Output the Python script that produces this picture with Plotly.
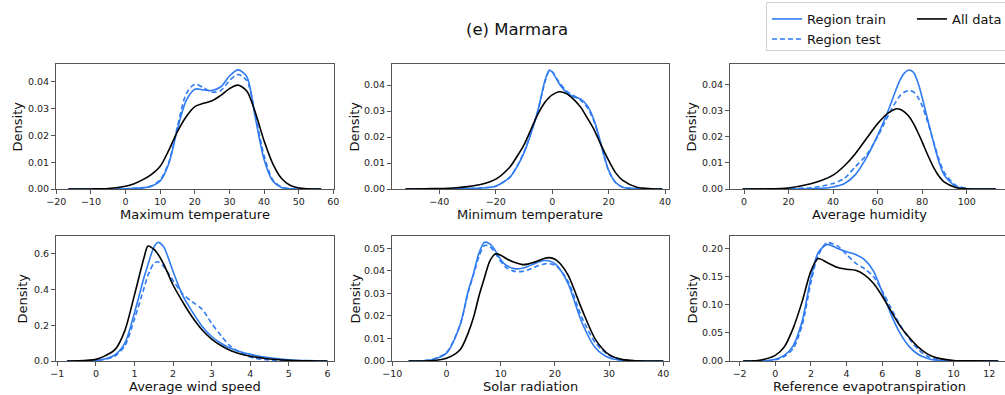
import plotly.graph_objects as go

# ---------------- data ----------------
tmax_x = [-16.5, -10, -5, 0, 2.5, 5, 7.5, 10, 12.5, 15, 17.5, 20, 22.5, 25, 27.5, 30, 32.5, 35, 37.5, 40, 42.5, 45, 47.5, 50, 56.5]
tmax_all = [0, 0.00002, 0.0002, 0.001, 0.002, 0.0035, 0.0055, 0.0085, 0.0145, 0.0215, 0.027, 0.0308, 0.0320, 0.0330, 0.0350, 0.0375, 0.0388, 0.0366, 0.0285, 0.018, 0.0095, 0.0040, 0.0014, 0.0004, 0]
tmax_train = [0, 0, 0, 0.0001, 0.0003, 0.0004, 0.001, 0.003, 0.0095, 0.0225, 0.033, 0.0373, 0.0370, 0.0368, 0.0382, 0.0422, 0.0445, 0.0420, 0.0265, 0.011, 0.003, 0.0006, 0.0001, 0, 0]
tmax_test = [0, 0, 0, 0.0001, 0.0003, 0.0005, 0.0012, 0.0035, 0.010, 0.0235, 0.0355, 0.0392, 0.0378, 0.0362, 0.0368, 0.0405, 0.0428, 0.0405, 0.0275, 0.0125, 0.0035, 0.0008, 0.0001, 0, 0]

tmin_x = [-52, -45, -40, -35, -30, -25, -20, -15, -12.5, -10, -7.5, -5, -2.5, -1, 0, 2.5, 5, 7.5, 10, 12.5, 15, 17.5, 20, 22.5, 25, 30, 35, 39]
tmin_all = [0, 0.0001, 0.0002, 0.0004, 0.0009, 0.0018, 0.0038, 0.0085, 0.0125, 0.0170, 0.0230, 0.0290, 0.0335, 0.0353, 0.0362, 0.0374, 0.0367, 0.0346, 0.0316, 0.0272, 0.0225, 0.0165, 0.0110, 0.0062, 0.0033, 0.0007, 0.0001, 0]
tmin_train = [0, 0, 0, 0.0001, 0.0002, 0.0004, 0.0011, 0.0045, 0.0085, 0.0140, 0.0215, 0.0305, 0.0420, 0.0458, 0.0450, 0.0405, 0.0372, 0.0355, 0.0347, 0.0320, 0.0260, 0.0165, 0.0072, 0.0025, 0.0007, 0.0001, 0, 0]
tmin_test = [0, 0, 0, 0.0001, 0.0002, 0.0004, 0.0011, 0.0046, 0.0087, 0.0142, 0.0217, 0.0303, 0.0415, 0.0455, 0.0452, 0.0410, 0.0378, 0.0360, 0.0342, 0.0312, 0.0255, 0.0160, 0.0070, 0.0024, 0.0007, 0.0001, 0, 0]

hum_x = [-0.6, 10, 20, 30, 35, 40, 45, 50, 55, 60, 65, 68.5, 70, 72, 74, 76, 78, 80, 82.5, 85, 87.5, 90, 95, 100, 105, 113]
hum_all = [0, 0.00005, 0.0004, 0.002, 0.0033, 0.0053, 0.0088, 0.0135, 0.0193, 0.0250, 0.0292, 0.0307, 0.0305, 0.0295, 0.0278, 0.0252, 0.0218, 0.0180, 0.0130, 0.0085, 0.0050, 0.0026, 0.0006, 0.0001, 0, 0]
hum_train = [0, 0, 0, 0.0001, 0.0003, 0.0008, 0.002, 0.0055, 0.0120, 0.0205, 0.0305, 0.0385, 0.0415, 0.0443, 0.0455, 0.0447, 0.0410, 0.0350, 0.0265, 0.0182, 0.0105, 0.0052, 0.0010, 0.0001, 0, 0]
hum_test = [0, 0, 0.0001, 0.0005, 0.0011, 0.0021, 0.0040, 0.0085, 0.0130, 0.0200, 0.0285, 0.0338, 0.0356, 0.0370, 0.0376, 0.0372, 0.0352, 0.0318, 0.0255, 0.0185, 0.0115, 0.0062, 0.0015, 0.0002, 0, 0]

wind_x = [-0.75, -0.5, 0, 0.25, 0.5, 0.75, 1.0, 1.25, 1.35, 1.5, 1.6, 1.75, 2.0, 2.25, 2.5, 2.75, 3.0, 3.25, 3.5, 4.0, 4.5, 5.0, 5.5, 6.0]
wind_all = [0, 0.0005, 0.009, 0.03, 0.065, 0.17, 0.37, 0.58, 0.643, 0.625, 0.6, 0.545, 0.425, 0.33, 0.245, 0.175, 0.122, 0.085, 0.058, 0.027, 0.011, 0.004, 0.001, 0]
wind_train = [0, 0, 0.003, 0.012, 0.035, 0.1, 0.27, 0.47, 0.54, 0.635, 0.663, 0.64, 0.5, 0.365, 0.275, 0.195, 0.137, 0.098, 0.07, 0.037, 0.018, 0.007, 0.002, 0]
wind_test = [0, 0, 0.002, 0.01, 0.028, 0.085, 0.235, 0.41, 0.48, 0.545, 0.555, 0.53, 0.45, 0.375, 0.33, 0.29, 0.21, 0.14, 0.08, 0.022, 0.005, 0.001, 0, 0]

solar_x = [-7, -5, -2.5, 0, 2.5, 4, 5, 6, 7, 8, 9, 10, 11, 12.5, 14, 15, 16, 17, 18, 19, 20, 21, 22.5, 25, 27.5, 30, 32.5, 35, 40]
solar_all = [0, 0, 0.0002, 0.0012, 0.005, 0.0125, 0.0195, 0.029, 0.037, 0.0445, 0.0475, 0.047, 0.0455, 0.0438, 0.0428, 0.0430, 0.0437, 0.0446, 0.0455, 0.0459, 0.0452, 0.0432, 0.0378, 0.0228, 0.0095, 0.0028, 0.0006, 0.0001, 0]
solar_train = [0, 0, 0.0007, 0.0035, 0.016, 0.031, 0.039, 0.048, 0.0527, 0.0520, 0.0490, 0.0450, 0.0425, 0.0410, 0.0412, 0.0420, 0.0430, 0.0440, 0.0446, 0.0444, 0.0432, 0.0405, 0.0340, 0.0170, 0.0058, 0.0014, 0.0002, 0, 0]
solar_test = [0, 0, 0.0008, 0.0038, 0.016, 0.0305, 0.0385, 0.0465, 0.0513, 0.0508, 0.0478, 0.0442, 0.0415, 0.0398, 0.0398, 0.0404, 0.0414, 0.0424, 0.0431, 0.0432, 0.0425, 0.0404, 0.0350, 0.0192, 0.0080, 0.0025, 0.0006, 0.0001, 0]

et0_x = [-1.8, -1, -0.5, 0, 0.5, 1, 1.5, 2, 2.4, 2.9, 3.5, 4, 4.5, 5, 5.5, 6, 6.5, 7, 7.5, 8, 8.5, 9, 10, 11, 12.5]
et0_all = [0, 0.001, 0.004, 0.01, 0.025, 0.058, 0.105, 0.160, 0.182, 0.175, 0.166, 0.163, 0.161, 0.153, 0.138, 0.115, 0.088, 0.062, 0.042, 0.025, 0.013, 0.006, 0.001, 0.0002, 0]
et0_train = [0, 0, 0.0005, 0.003, 0.01, 0.027, 0.07, 0.148, 0.192, 0.207, 0.200, 0.194, 0.189, 0.180, 0.160, 0.122, 0.082, 0.049, 0.026, 0.012, 0.005, 0.0015, 0.0001, 0, 0]
et0_test = [0, 0, 0.0004, 0.002, 0.008, 0.022, 0.063, 0.140, 0.187, 0.210, 0.204, 0.189, 0.174, 0.164, 0.150, 0.124, 0.093, 0.064, 0.040, 0.021, 0.009, 0.003, 0.0003, 0, 0]

panel_labels = ["Maximum temperature", "Minimum temperature", "Average humidity",
                "Average wind speed", "Solar radiation", "Reference evapotranspiration"]
series_names = ["Region train", "Region test", "All data"]
title_text = "(e) Marmara"

x_ticks = [[-20, -10, 0, 10, 20, 30, 40, 50, 60], [-40, -20, 0, 20, 40], [0, 20, 40, 60, 80, 100],
           [-1, 0, 1, 2, 3, 4, 5, 6], [-10, 0, 10, 20, 30, 40], [-2, 0, 2, 4, 6, 8, 10, 12]]
y_ticks = [[0, 0.01, 0.02, 0.03, 0.04], [0, 0.01, 0.02, 0.03, 0.04], [0, 0.01, 0.02, 0.03, 0.04],
           [0, 0.2, 0.4, 0.6], [0, 0.01, 0.02, 0.03, 0.04, 0.05], [0, 0.05, 0.10, 0.15, 0.20]]
y_fmt = [".2f", ".2f", ".2f", ".1f", ".2f", ".2f"]

# ---------------- layout geometry (pixels) ----------------
W, H = 1005, 395
col_px = [(56, 334), (392, 669), (730, 1005)]
row_px = [(64, 189), (236, 361)]
x_ranges = [(-20.1, 60.2), (-56.8, 41.4), (-6.29, 117.2), (-1.034, 6.17), (-10.06, 41.05), (-2.54, 12.88)]
y_ranges = [(0, 0.0467), (0, 0.0481), (0, 0.0478), (0, 0.699), (0, 0.0555), (0, 0.222)]
ytitle_px = [17, 354, 691, 22, 355, 692]
xtitle_cx = [195, 530, 869, 195, 530, 869]

BLUE = "#2f7bf2"
AX = "#555555"
FONT = "DejaVu Sans"

panels = [
    (tmax_x, tmax_train, tmax_test, tmax_all),
    (tmin_x, tmin_train, tmin_test, tmin_all),
    (hum_x, hum_train, hum_test, hum_all),
    (wind_x, wind_train, wind_test, wind_all),
    (solar_x, solar_train, solar_test, solar_all),
    (et0_x, et0_train, et0_test, et0_all),
]

fig = go.Figure()
annotations = []
layout = {}
for i, (xs, tr, te, al) in enumerate(panels):
    k = i + 1
    xa = "x" if k == 1 else f"x{k}"
    ya = "y" if k == 1 else f"y{k}"
    first = (k == 1)
    line_common = dict(shape="spline", smoothing=0.8, width=1.6)
    fig.add_trace(go.Scatter(x=xs, y=tr, mode="lines", name=series_names[0], legendgroup="tr",
                             showlegend=first, legend="legend", xaxis=xa, yaxis=ya,
                             line=dict(color=BLUE, **line_common)))
    fig.add_trace(go.Scatter(x=xs, y=te, mode="lines", name=series_names[1], legendgroup="te",
                             showlegend=first, legend="legend3", xaxis=xa, yaxis=ya,
                             line=dict(color=BLUE, dash="5px,3px", **line_common)))
    fig.add_trace(go.Scatter(x=xs, y=al, mode="lines", name=series_names[2], legendgroup="al",
                             showlegend=first, legend="legend2", xaxis=xa, yaxis=ya,
                             line=dict(color="black", **line_common)))

    r, c = divmod(i, 3)
    x0, x1 = col_px[c]
    y0, y1 = row_px[r]
    dom_x = [x0 / W, min(x1 / W, 1.0)]
    dom_y = [1 - y1 / H, 1 - y0 / H]
    last_col = (c == 2)
    layout["xaxis" if k == 1 else f"xaxis{k}"] = dict(
        domain=dom_x, range=list(x_ranges[i]), anchor=ya, tickvals=x_ticks[i],
        showline=True, linecolor=AX, linewidth=1, mirror=True, ticks="outside", ticklen=4,
        tickcolor=AX, showgrid=False, zeroline=False,
        tickfont=dict(family=FONT, size=9.5, color="#222"))
    layout["yaxis" if k == 1 else f"yaxis{k}"] = dict(
        domain=dom_y, range=list(y_ranges[i]), anchor=xa, tickvals=y_ticks[i], tickformat=y_fmt[i],
        showline=True, linecolor=AX, linewidth=1, mirror=(not last_col), ticks="outside", ticklen=4,
        tickcolor=AX, showgrid=False, zeroline=False,
        tickfont=dict(family=FONT, size=9.5, color="#222"))
    # axis titles
    annotations.append(dict(text=panel_labels[i], xref="paper", yref="paper",
                            x=xtitle_cx[i] / W, y=1 - (y1 + 25) / H,
                            xanchor="center", yanchor="middle", showarrow=False,
                            font=dict(family=FONT, size=13, color="#111")))
    annotations.append(dict(text="Density", xref="paper", yref="paper", textangle=-90,
                            x=ytitle_px[i] / W, y=1 - ((y0 + y1) / 2) / H,
                            xanchor="center", yanchor="middle", showarrow=False,
                            font=dict(family=FONT, size=13, color="#111")))

annotations.append(dict(text=title_text, xref="paper", yref="paper", x=517 / W, y=1 - 30 / H,
                        xanchor="center", yanchor="middle", showarrow=False,
                        font=dict(family=FONT, size=16.5, color="#111")))

leg_common = dict(xanchor="left", yanchor="middle", orientation="v", bgcolor="rgba(0,0,0,0)",
                  borderwidth=0, font=dict(family=FONT, size=13, color="#111"), itemwidth=30)

fig.update_layout(
    **layout,
    width=W, height=H,
    margin=dict(l=0, r=0, t=0, b=0, pad=0, autoexpand=False),
    paper_bgcolor="white", plot_bgcolor="white",
    font=dict(family=FONT, color="#111"),
    annotations=annotations,
    shapes=[dict(type="rect", xref="paper", yref="paper", x0=766.5 / W, x1=1.02,
                 y0=1 - 50.5 / H, y1=1 - 2.5 / H, line=dict(color="#d0d0d0", width=1),
                 fillcolor="rgba(255,255,255,0.9)", layer="above")],
    legend=dict(x=767 / W, y=1 - 19 / H, **leg_common),
    legend2=dict(x=912 / W, y=1 - 19 / H, **leg_common),
    legend3=dict(x=767 / W, y=1 - 39 / H, **leg_common),
    showlegend=True,
)

fig.write_html("out.html", config={"displayModeBar": False})
